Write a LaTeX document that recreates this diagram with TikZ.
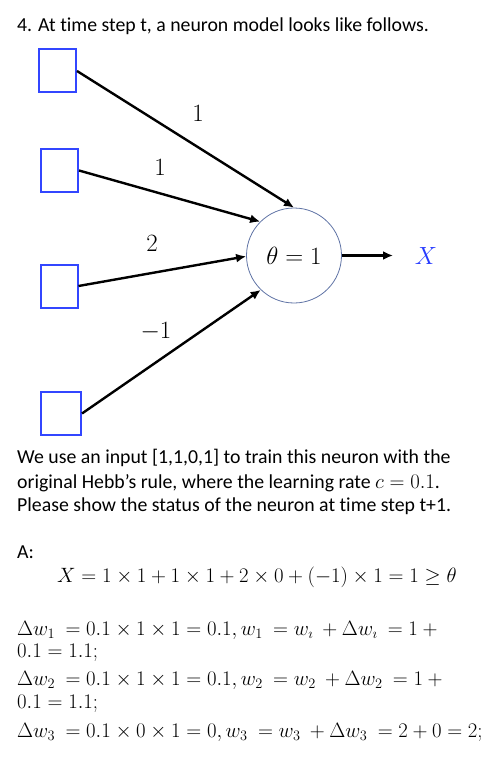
\documentclass[tikz,border=0pt]{standalone}
\usepackage[no-math]{fontspec}
\setmainfont{Carlito}[Ligatures=NoCommon]
\usetikzlibrary{arrows.meta}
\definecolor{sqblue}{RGB}{50,70,255}
\definecolor{xblue}{RGB}{40,60,255}
\definecolor{circ}{RGB}{95,115,165}
\newcommand{\gp}{\hspace{4.5pt}}
\begin{document}
\begin{tikzpicture}[x=1pt,y=-1pt,
  inbox/.style={draw=sqblue,line width=2pt,minimum width=37pt,minimum height=43pt,inner sep=0pt},
  neuron/.style={draw=circ,line width=0.8pt,circle,minimum size=95pt,inner sep=0pt,font=\fontsize{30}{36}\selectfont},
  wire/.style={line width=2.4pt,-{Latex[length=10pt,width=9pt]}},
  wlabel/.style={inner sep=0pt,font=\fontsize{34}{40}\selectfont},
  txt/.style={anchor=base west,inner sep=0pt,font=\fontsize{19.8}{24}\selectfont},
  mth/.style={anchor=base west,inner sep=0pt,font=\fontsize{19.3}{24}\selectfont}]
\useasboundingbox (0,0) rectangle (500,767);
\node[txt] (title) at (17,32) {4. At time step t, a neuron model looks like follows.};
\node[inbox] (s1) at (57.5,71) {};
\node[inbox] (s2) at (59.5,170.5) {};
\node[inbox] (s3) at (59,286) {};
\node[inbox,minimum width=40pt] (s4) at (61,413.5) {};
\node[neuron] (n) at (294,255.5) {$\theta=1$};
\node[wlabel] (l1) at (198,113) {$1$};
\node[wlabel] (l2) at (160,167) {$1$};
\node[wlabel] (l3) at (152,243) {$2$};
\node[wlabel] (l4) at (156,332) {$-1$};
\node[wlabel,text=xblue] (xo) at (426,255.5) {$X$};
\coordinate (xin) at (393,255.5);
\draw[wire] (s1.east) -- (n.north);
\draw[wire] (s2.east) -- (n.135);
\draw[wire] (s3.east) -- (n.181);
\draw[wire] (s4.east) -- (n.226);
\draw[wire] (n.east) -- (xin);
\node[txt] (p1) at (17,463) {We use an input [1,1,0,1] to train this neuron with the};
\node[txt] (p2) at (17,488) {original Hebb’s rule, where the learning rate $c = 0.1$.};
\node[txt] (p3) at (17,511) {Please show the status of the neuron at time step t+1.};
\node[txt] (a) at (17,558) {A:};
\node[mth] (eq) at (57,582) {$X=1\times1+1\times1+2\times0+(-1)\times1=1\geq\theta$};
\node[mth] (d1) at (17,635) {$\Delta w_1\gp=0.1\times1\times1=0.1,w_1\gp=w_{\imath}\gp+\Delta w_{\imath}\gp=1+{}$};
\node[mth] (d2) at (17,657) {$0.1=1.1;$};
\node[mth] (d3) at (17,685) {$\Delta w_2\gp=0.1\times1\times1=0.1,w_2\gp=w_2\gp+\Delta w_2\gp=1+{}$};
\node[mth] (d4) at (17,708) {$0.1=1.1;$};
\node[mth] (d5) at (17,737) {$\Delta w_3\gp=0.1\times0\times1=0,w_3\gp=w_3\gp+\Delta w_3\gp=2+0=2;$};
\end{tikzpicture}
\end{document}
